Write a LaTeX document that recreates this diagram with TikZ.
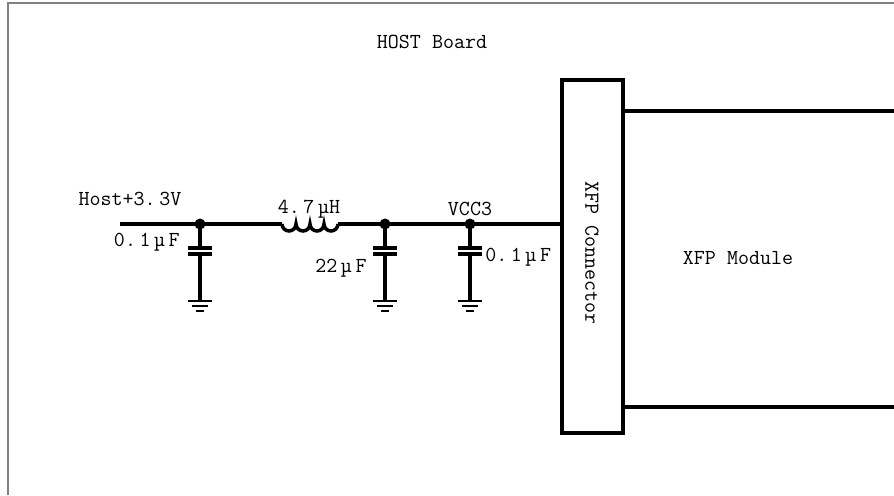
\documentclass[tikz,border=0pt]{standalone}
\usepackage{fontspec}
\usetikzlibrary{calc}
\begin{document}
\begin{tikzpicture}[x=0.025cm,y=-0.025cm,
  wire/.style={line width=2.5pt},
  gnd/.style={line width=1.8pt},
  lbl/.style={font=\ttfamily\fontsize{15.2}{16}\selectfont,inner sep=0pt},
  box/.style={draw,line width=2.5pt,inner sep=0pt,minimum width=1.525cm,minimum height=8.825cm}]
\useasboundingbox (0,0) rectangle (894,495);

% Board frame
\draw[gray,line width=0.8pt] (8,495) -- (8,3) -- (894,3);
\node[lbl] (board) at (432,42) {HOST Board};

% Connector and module
\node[box] (conn) at (592.5,256.5) {};
\node[lbl,rotate=-90] (connlbl) at (592,253) {XFP Connector};
\coordinate (mtop) at (894,111);
\coordinate (mbot) at (894,407);
\draw[wire] (mtop -| conn.east) -- (mtop);
\draw[wire] (mbot -| conn.east) -- (mbot);
\node[lbl] (module) at (738,258) {XFP Module};

% Supply rail
\coordinate (vin) at (120,224);
\coordinate (Lin) at (282,224);
\coordinate (Lout) at (338,224);
\foreach \i/\cx in {1/200,2/385,3/470}
  \coordinate (j\i) at (\cx,224);
\draw[wire] (vin) -- (j1) -- (Lin);
\draw[wire] (Lin) arc (180:0:7) arc (180:0:7) arc (180:0:7) arc (180:0:7);
\draw[wire] (Lout) -- (j2) -- (j3) -- (j3 -| conn.west);

% Decoupling capacitors to ground
\foreach \i in {1,2,3} {
  \fill (j\i) circle (5.5);
  \draw[wire] (j\i) -- ++(0,24) coordinate (c\i);
  \draw[wire] ($(c\i)+(-12,0)$) -- ($(c\i)+(12,0)$);
  \draw[wire] ($(c\i)+(-12,6)$) -- ($(c\i)+(12,6)$);
  \draw[wire] ($(c\i)+(0,6)$) -- ++(0,47) coordinate (g\i);
  \draw[gnd] ($(g\i)+(-12,0)$) -- ($(g\i)+(12,0)$);
  \draw[gnd] ($(g\i)+(-8,5)$) -- ($(g\i)+(8,5)$);
  \draw[gnd] ($(g\i)+(-4,10)$) -- ($(g\i)+(4,10)$);
}

% Labels
\node[lbl] (vinlbl) at (130,199) {Host+3.\,3V};
\node[lbl] (Llbl) at (309,209) {4.\,7\,µH};
\node[lbl] (vcclbl) at (470,209) {VCC3};
\node[lbl,anchor=east] (c1lbl) at (180,242) {0.\,1\,µ\,F};
\node[lbl] (c2lbl) at (341,268) {22\,µ\,F};
\node[lbl,anchor=west] (c3lbl) at (485,257) {0.\,1\,µ\,F};
\end{tikzpicture}
\end{document}
